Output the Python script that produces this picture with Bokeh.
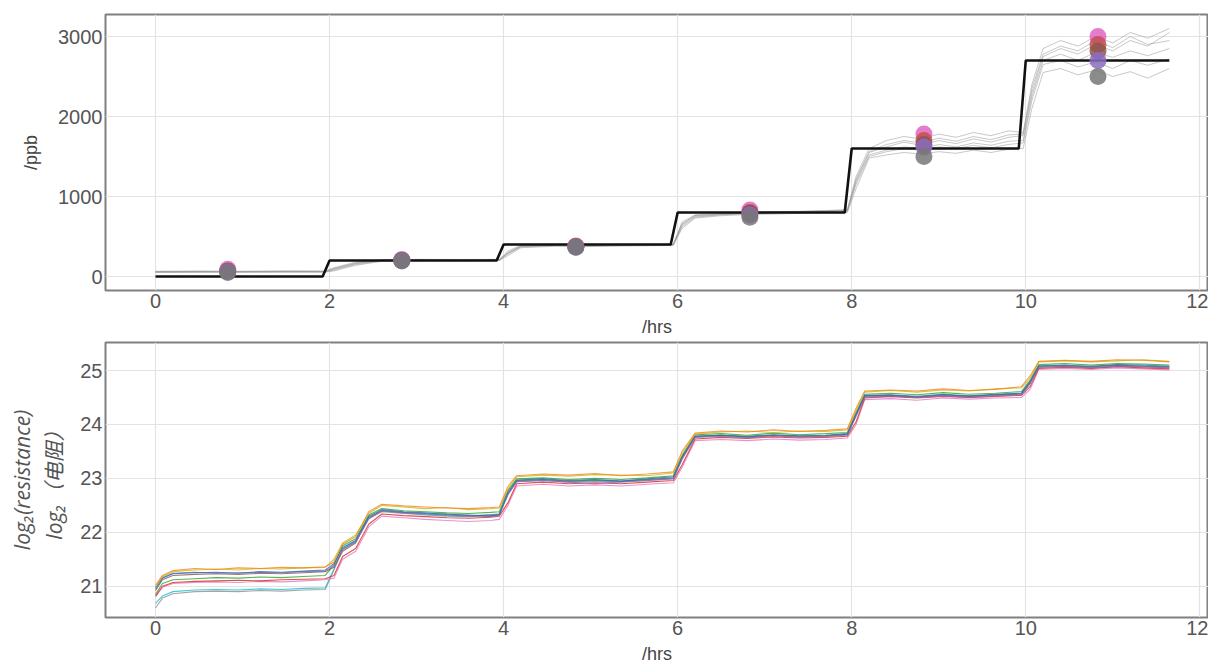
from bokeh.plotting import figure
from bokeh.layouts import column
from bokeh.models import Range1d, FixedTicker
from bokeh.embed import file_html
from bokeh.resources import INLINE

# ---------------- top panel data ----------------
HOURS_REF = [0, 1.92, 2.0, 3.92, 4.0, 5.92, 6.0, 7.92, 8.0, 9.92, 10.0, 11.65]
PPB_REF = [0, 0, 200, 200, 400, 400, 800, 800, 1600, 1600, 2700, 2700]

T_TOP = [0.0, 0.5, 1.0, 1.5, 1.95,
         2.05, 2.3, 2.6, 3.0, 3.5, 3.95,
         4.05, 4.2, 4.6, 5.0, 5.5, 5.95,
         6.05, 6.2, 6.5, 6.8, 7.1, 7.4, 7.7, 7.95,
         8.05, 8.2, 8.4, 8.6, 8.8, 9.0, 9.2, 9.4, 9.6, 9.8, 9.97,
         10.07, 10.2, 10.4, 10.6, 10.8, 11.0, 11.2, 11.4, 11.65]

SENSOR_PPB_1 = [60, 62, 60, 63, 62,
                100, 170, 205, 210, 205, 210,
                300, 380, 390, 385, 395, 400,
                650, 760, 780, 790, 800, 810, 820, 830,
                1200, 1550, 1620, 1680, 1640, 1700, 1660, 1720, 1680, 1740, 1760,
                2300, 2750, 2850, 2780, 2900, 2820, 2950, 2880, 3050]
SENSOR_PPB_2 = [55, 58, 57, 60, 58,
                80, 150, 195, 205, 200, 205,
                280, 370, 385, 380, 390, 395,
                620, 740, 770, 785, 795, 800, 810, 815,
                1150, 1500, 1560, 1600, 1580, 1620, 1600, 1640, 1610, 1650, 1670,
                2200, 2650, 2700, 2620, 2680, 2600, 2700, 2640, 2720]
SENSOR_PPB_3 = [50, 52, 55, 53, 55,
                70, 140, 190, 200, 198, 200,
                260, 360, 378, 375, 382, 388,
                600, 730, 760, 775, 780, 790, 795, 800,
                1100, 1480, 1520, 1550, 1530, 1560, 1540, 1580, 1550, 1590, 1600,
                2100, 2550, 2600, 2520, 2580, 2500, 2560, 2480, 2600]
SENSOR_PPB_4 = [65, 68, 66, 70, 68,
                110, 180, 210, 215, 212, 215,
                320, 390, 395, 392, 400, 405,
                680, 770, 790, 800, 810, 815, 825, 835,
                1250, 1600, 1700, 1750, 1720, 1780, 1740, 1800, 1760, 1820, 1800,
                2400, 2850, 2950, 2880, 3000, 2920, 3050, 2980, 3100]
SENSOR_PPB_5 = [58, 60, 58, 61, 60,
                90, 160, 200, 205, 203, 206,
                290, 375, 388, 384, 392, 398,
                640, 750, 775, 788, 798, 805, 812, 820,
                1180, 1520, 1580, 1620, 1600, 1650, 1620, 1670, 1640, 1690, 1700,
                2250, 2700, 2780, 2700, 2800, 2740, 2820, 2760, 2850]
SENSOR_PPB_6 = [62, 64, 62, 65, 64,
                95, 165, 203, 208, 205, 208,
                295, 382, 392, 388, 396, 400,
                660, 765, 782, 795, 805, 812, 818, 826,
                1220, 1560, 1650, 1700, 1670, 1730, 1690, 1750, 1710, 1770, 1780,
                2350, 2780, 2880, 2820, 2950, 2860, 3000, 2900, 2950]

SAMPLE_HOURS = [0.83, 2.83, 4.83, 6.83, 8.83, 10.83]
SAMPLE_PINK = [90, 210, 380, 830, 1780, 3000]
SAMPLE_RED = [70, 205, 375, 800, 1700, 2900]
SAMPLE_BROWN = [65, 200, 372, 790, 1650, 2820]
SAMPLE_PURPLE = [60, 200, 370, 770, 1620, 2700]
SAMPLE_GRAY = [50, 195, 365, 740, 1500, 2500]

# ---------------- bottom panel data ----------------
T_BOT = [0.0, 0.08, 0.2, 0.45, 0.7, 0.95, 1.2, 1.45, 1.7, 1.95,
         2.05, 2.15, 2.3, 2.45, 2.6, 2.85, 3.1, 3.35, 3.6, 3.85, 3.95,
         4.05, 4.15, 4.45, 4.75, 5.05, 5.35, 5.65, 5.95,
         6.05, 6.2, 6.5, 6.8, 7.1, 7.4, 7.7, 7.95,
         8.05, 8.15, 8.45, 8.75, 9.05, 9.35, 9.65, 9.95,
         10.05, 10.15, 10.45, 10.75, 11.05, 11.35, 11.65]

LOGR_ORANGE = [21.02, 21.2, 21.29, 21.33, 21.31, 21.34, 21.33, 21.35, 21.34, 21.36,
               21.45, 21.78, 21.92, 22.38, 22.52, 22.49, 22.47, 22.45, 22.44, 22.46, 22.47,
               22.85, 23.05, 23.08, 23.06, 23.09, 23.05, 23.08, 23.12,
               23.5, 23.84, 23.88, 23.86, 23.9, 23.87, 23.89, 23.92,
               24.3, 24.62, 24.64, 24.62, 24.66, 24.63, 24.65, 24.7,
               24.9, 25.17, 25.19, 25.17, 25.2, 25.19, 25.16]
LOGR_OLIVE = [20.98, 21.18, 21.27, 21.3, 21.32, 21.3, 21.33, 21.32, 21.34, 21.35,
              21.5, 21.8, 21.95, 22.35, 22.5, 22.47, 22.44, 22.46, 22.42, 22.44, 22.45,
              22.8, 23.03, 23.06, 23.04, 23.07, 23.06, 23.05, 23.1,
              23.45, 23.82, 23.86, 23.88, 23.85, 23.88, 23.87, 23.9,
              24.25, 24.6, 24.63, 24.6, 24.64, 24.62, 24.66, 24.68,
              24.85, 25.16, 25.18, 25.16, 25.18, 25.2, 25.17]
LOGR_BLUE = [20.95, 21.15, 21.23, 21.25, 21.26, 21.24, 21.27, 21.26, 21.28, 21.3,
             21.42, 21.72, 21.85, 22.3, 22.42, 22.38, 22.36, 22.33, 22.32, 22.3, 22.32,
             22.75, 22.97, 22.99, 22.96, 22.98, 22.95, 22.99, 23.03,
             23.4, 23.78, 23.8, 23.78, 23.81, 23.79, 23.8, 23.83,
             24.2, 24.54, 24.55, 24.52, 24.56, 24.53, 24.56, 24.58,
             24.8, 25.09, 25.1, 25.08, 25.11, 25.1, 25.08]
LOGR_PURPLE = [20.98, 21.16, 21.24, 21.26, 21.24, 21.25, 21.26, 21.25, 21.27, 21.28,
               21.38, 21.68, 21.83, 22.25, 22.4, 22.36, 22.34, 22.32, 22.3, 22.33, 22.34,
               22.7, 22.94, 22.96, 22.93, 22.9, 22.94, 22.96, 23.0,
               23.35, 23.76, 23.78, 23.75, 23.79, 23.77, 23.78, 23.8,
               24.15, 24.5, 24.52, 24.5, 24.53, 24.5, 24.53, 24.55,
               24.75, 25.06, 25.08, 25.05, 25.08, 25.07, 25.05]
LOGR_BROWN = [20.92, 21.12, 21.2, 21.22, 21.23, 21.22, 21.24, 21.23, 21.25, 21.27,
              21.35, 21.65, 21.8, 22.28, 22.4, 22.37, 22.35, 22.34, 22.31, 22.3, 22.33,
              22.72, 22.96, 22.98, 22.95, 22.97, 22.95, 22.98, 23.01,
              23.38, 23.78, 23.8, 23.77, 23.8, 23.78, 23.79, 23.82,
              24.18, 24.53, 24.54, 24.51, 24.55, 24.52, 24.55, 24.57,
              24.78, 25.08, 25.09, 25.07, 25.1, 25.08, 25.07]
LOGR_GREEN = [20.85, 21.05, 21.12, 21.14, 21.16, 21.15, 21.17, 21.16, 21.18, 21.2,
              21.4, 21.75, 21.88, 22.32, 22.44, 22.4, 22.38, 22.36, 22.35, 22.37, 22.38,
              22.78, 22.99, 23.01, 22.98, 23.0, 22.98, 23.01, 23.05,
              23.42, 23.81, 23.83, 23.8, 23.84, 23.81, 23.83, 23.85,
              24.22, 24.56, 24.58, 24.55, 24.59, 24.56, 24.58, 24.61,
              24.82, 25.11, 25.13, 25.1, 25.13, 25.12, 25.1]
LOGR_RED = [20.82, 21.0, 21.07, 21.09, 21.1, 21.11, 21.1, 21.12, 21.13, 21.14,
            21.2, 21.55, 21.7, 22.15, 22.34, 22.31, 22.29, 22.27, 22.26, 22.28, 22.3,
            22.55, 22.9, 22.93, 22.9, 22.92, 22.9, 22.93, 22.96,
            23.25, 23.73, 23.76, 23.74, 23.77, 23.75, 23.76, 23.78,
            24.05, 24.49, 24.52, 24.49, 24.52, 24.5, 24.52, 24.54,
            24.7, 25.04, 25.06, 25.04, 25.07, 25.05, 25.03]
LOGR_PINK = [20.8, 20.98, 21.05, 21.07, 21.08, 21.07, 21.09, 21.08, 21.1, 21.12,
             21.15, 21.5, 21.65, 22.1, 22.3, 22.27, 22.24, 22.22, 22.2, 22.22, 22.24,
             22.5, 22.86, 22.89, 22.86, 22.88, 22.86, 22.89, 22.92,
             23.2, 23.7, 23.72, 23.7, 23.73, 23.71, 23.72, 23.75,
             24.0, 24.46, 24.48, 24.45, 24.49, 24.47, 24.49, 24.5,
             24.65, 25.02, 25.04, 25.02, 25.05, 25.03, 25.01]
LOGR_GRAY = [20.6, 20.78, 20.86, 20.9, 20.91, 20.9, 20.92, 20.91, 20.93, 20.94,
             21.3, 21.68, 21.82, 22.25, 22.38, 22.35, 22.32, 22.3, 22.29, 22.31, 22.33,
             22.7, 22.94, 22.96, 22.93, 22.95, 22.93, 22.96, 22.99,
             23.36, 23.77, 23.79, 23.76, 23.79, 23.77, 23.78, 23.81,
             24.17, 24.52, 24.53, 24.5, 24.54, 24.51, 24.54, 24.56,
             24.77, 25.06, 25.08, 25.05, 25.08, 25.07, 25.05]
LOGR_CYAN = [20.68, 20.82, 20.9, 20.93, 20.94, 20.93, 20.95, 20.94, 20.96, 20.97,
             21.32, 21.7, 21.84, 22.27, 22.4, 22.36, 22.33, 22.31, 22.3, 22.32, 22.34,
             22.72, 22.95, 22.97, 22.94, 22.96, 22.94, 22.97, 23.0,
             23.38, 23.78, 23.8, 23.77, 23.8, 23.78, 23.79, 23.82,
             24.19, 24.53, 24.54, 24.51, 24.55, 24.52, 24.55, 24.57,
             24.78, 25.07, 25.09, 25.06, 25.09, 25.08, 25.06]

X_TICKS = [0, 2, 4, 6, 8, 10, 12]
PPB_TICKS = [0, 1000, 2000, 3000]
LOGR_TICKS = [21, 22, 23, 24, 25]

TICK_FONT = "Liberation Sans"


def style(p, yticks):
    p.xaxis.ticker = FixedTicker(ticks=X_TICKS)
    p.yaxis.ticker = FixedTicker(ticks=yticks)
    for ax in (p.xaxis[0], p.yaxis[0]):
        ax.axis_line_color = None
        ax.major_tick_line_color = None
        ax.minor_tick_line_color = None
        ax.major_tick_out = 0
        ax.major_tick_in = 0
        ax.major_label_text_font = TICK_FONT
        ax.major_label_text_font_size = "20px"
        ax.major_label_text_color = "#555555"
        ax.major_label_standoff = 3
        ax.axis_label_text_font = TICK_FONT
        ax.axis_label_text_font_size = "18px"
        ax.axis_label_text_font_style = "normal"
        ax.axis_label_text_color = "#444444"
    p.xgrid.grid_line_color = "#e3e3e3"
    p.ygrid.grid_line_color = "#e3e3e3"
    p.xgrid.grid_line_width = 1.2
    p.ygrid.grid_line_width = 1.2
    p.outline_line_color = "#808080"
    p.outline_line_width = 2
    p.background_fill_color = "white"
    p.border_fill_color = "white"


p1 = figure(width=1208, height=340, x_range=Range1d(-0.575, 12.1),
            y_range=Range1d(-175, 3275), output_backend="svg",
            toolbar_location=None, min_border_left=105, min_border_right=0,
            min_border_top=14, min_border_bottom=50)
style(p1, PPB_TICKS)
p1.xaxis.axis_label = "/hrs"
p1.yaxis.axis_label = "/ppb"
p1.xaxis.axis_label_standoff = 6
p1.yaxis.axis_label_standoff = 14

for s in (SENSOR_PPB_1, SENSOR_PPB_2, SENSOR_PPB_3, SENSOR_PPB_4, SENSOR_PPB_5, SENSOR_PPB_6):
    p1.line(T_TOP, s, line_color="#9a9a9a", line_alpha=0.55, line_width=1)
p1.line(HOURS_REF, PPB_REF, line_color="#111111", line_width=2.6)

for vals, col in ((SAMPLE_PINK, "#e066c4"), (SAMPLE_RED, "#c44e52"),
                  (SAMPLE_BROWN, "#8c564b"), (SAMPLE_PURPLE, "#8a6cbf"),
                  (SAMPLE_GRAY, "#777777")):
    p1.scatter(SAMPLE_HOURS, vals, size=17, fill_color=col, line_color=None,
               fill_alpha=0.85)

p2 = figure(width=1208, height=326, x_range=Range1d(-0.575, 12.1),
            y_range=Range1d(20.42, 25.52), output_backend="svg",
            toolbar_location=None, min_border_left=105, min_border_right=0,
            min_border_top=2, min_border_bottom=47)
style(p2, LOGR_TICKS)
p2.xaxis.axis_label = "/hrs"
p2.xaxis.axis_label_standoff = 6
p2.yaxis.axis_label = "log\u2082(resistance)\nlog\u2082\uff08\u7535\u963b\uff09"
p2.yaxis.axis_label_text_font = "Open Sans, Noto Sans CJK SC"
p2.yaxis.axis_label_text_font_style = "italic"
p2.yaxis.axis_label_text_font_size = "21px"
p2.yaxis.axis_label_text_color = "#555555"
p2.yaxis.axis_label_text_line_height = 1.15
p2.yaxis.axis_label_standoff = 9

for vals, col in ((LOGR_GRAY, "#8f8f8f"), (LOGR_CYAN, "#17becf"),
                  (LOGR_PINK, "#e377c2"), (LOGR_RED, "#d62728"),
                  (LOGR_GREEN, "#2ca02c"), (LOGR_BROWN, "#8c564b"),
                  (LOGR_PURPLE, "#9467bd"), (LOGR_BLUE, "#1f77b4"),
                  (LOGR_OLIVE, "#bcbd22"), (LOGR_ORANGE, "#ff7f0e")):
    p2.line(T_BOT, vals, line_color=col, line_width=1.1, line_alpha=0.8)

layout = column(p1, p2)
open("out.html", "w").write(file_html(layout, INLINE))
